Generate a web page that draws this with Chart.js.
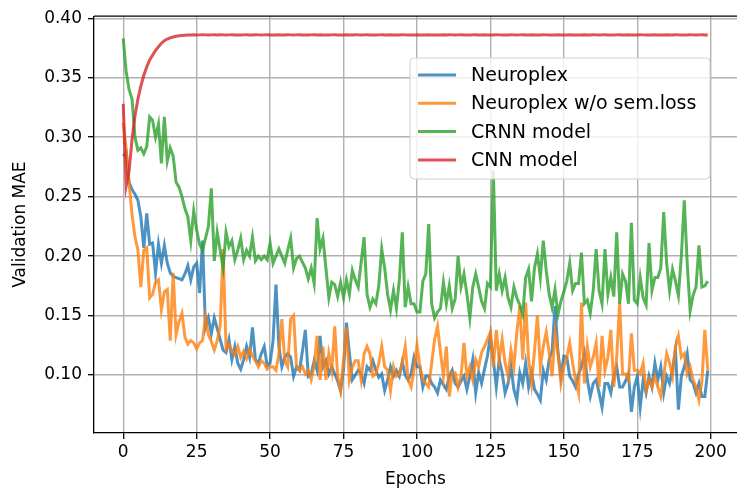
<!DOCTYPE html>
<html>
<head>
<meta charset="utf-8">
<script src="https://cdn.jsdelivr.net/npm/chart.js@4.4.1/dist/chart.umd.min.js"></script>
<style>
html,body{margin:0;padding:0;background:#fff;}
#wrap{width:737px;height:493px;}
</style>
</head>
<body>
<div id="wrap"><canvas id="c" width="737" height="493"></canvas></div>
<script>
const seriesNames = ["Neuroplex", "Neuroplex w/o sem.loss", "CRNN model", "CNN model"];
const xTicks = [0, 25, 50, 75, 100, 125, 150, 175, 200];
const yTicks = [0.10, 0.15, 0.20, 0.25, 0.30, 0.35, 0.40];

const neuroplex = [
0.284,0.287,0.262,0.256,0.252,0.247,0.233,0.207,0.236,0.210,
0.211,0.186,0.210,0.194,0.209,0.194,0.186,0.183,0.182,0.181,
0.180,0.185,0.192,0.180,0.191,0.194,0.169,0.213,0.140,0.148,
0.135,0.148,0.139,0.130,0.121,0.119,0.130,0.113,0.124,0.110,
0.105,0.113,0.124,0.115,0.140,0.113,0.110,0.118,0.124,0.108,
0.110,0.129,0.176,0.124,0.107,0.115,0.118,0.115,0.099,0.107,
0.104,0.120,0.138,0.099,0.101,0.112,0.104,0.133,0.107,0.112,
0.101,0.107,0.101,0.095,0.087,0.105,0.144,0.118,0.096,0.100,
0.104,0.101,0.093,0.107,0.104,0.112,0.104,0.098,0.101,0.087,
0.096,0.107,0.099,0.104,0.099,0.111,0.100,0.096,0.101,0.115,
0.107,0.107,0.090,0.099,0.099,0.093,0.090,0.085,0.096,0.092,
0.088,0.099,0.104,0.093,0.090,0.095,0.099,0.088,0.099,0.113,
0.085,0.102,0.093,0.105,0.116,0.133,0.113,0.090,0.113,0.102,
0.085,0.093,0.107,0.088,0.079,0.102,0.093,0.110,0.090,0.102,
0.088,0.084,0.079,0.104,0.096,0.113,0.120,0.158,0.119,0.099,
0.116,0.115,0.099,0.095,0.090,0.101,0.107,0.118,0.096,0.082,
0.093,0.096,0.085,0.073,0.093,0.093,0.085,0.099,0.107,0.090,
0.090,0.095,0.101,0.069,0.090,0.099,0.073,0.096,0.085,0.099,
0.090,0.110,0.096,0.107,0.085,0.099,0.093,0.105,0.121,0.071,
0.099,0.107,0.118,0.096,0.093,0.085,0.093,0.082,0.082,0.104
];

const neuroplexNoSem = [
0.312,0.290,0.261,0.235,0.216,0.205,0.174,0.205,0.207,0.165,
0.168,0.178,0.180,0.155,0.170,0.172,0.129,0.186,0.134,0.145,
0.152,0.132,0.126,0.129,0.127,0.122,0.127,0.129,0.149,0.134,
0.128,0.121,0.129,0.141,0.206,0.122,0.126,0.120,0.117,0.124,
0.115,0.120,0.114,0.122,0.116,0.112,0.107,0.112,0.110,0.105,
0.107,0.107,0.104,0.118,0.147,0.112,0.107,0.147,0.150,0.107,
0.104,0.107,0.101,0.104,0.096,0.108,0.133,0.096,0.124,0.096,
0.118,0.104,0.141,0.099,0.087,0.112,0.140,0.096,0.107,0.112,
0.112,0.096,0.118,0.124,0.118,0.099,0.101,0.110,0.124,0.107,
0.104,0.087,0.107,0.099,0.101,0.110,0.124,0.096,0.090,0.104,
0.125,0.107,0.096,0.093,0.090,0.110,0.130,0.141,0.119,0.099,
0.124,0.082,0.102,0.102,0.090,0.099,0.127,0.099,0.107,0.096,
0.113,0.107,0.119,0.124,0.130,0.136,0.107,0.138,0.113,0.130,
0.110,0.099,0.121,0.107,0.136,0.158,0.113,0.161,0.113,0.093,
0.120,0.150,0.107,0.124,0.136,0.119,0.099,0.136,0.119,0.093,
0.107,0.115,0.127,0.110,0.096,0.085,0.161,0.093,0.124,0.107,
0.115,0.127,0.090,0.133,0.104,0.115,0.138,0.090,0.115,0.161,
0.101,0.101,0.096,0.135,0.104,0.104,0.101,0.110,0.087,0.096,
0.090,0.099,0.090,0.082,0.099,0.118,0.110,0.099,0.124,0.133,
0.115,0.118,0.101,0.107,0.096,0.090,0.079,0.095,0.138,0.104
];

const crnn = [
0.383,0.355,0.340,0.332,0.300,0.289,0.291,0.286,0.292,0.317,
0.314,0.300,0.311,0.278,0.317,0.280,0.291,0.284,0.262,0.258,
0.250,0.240,0.233,0.213,0.238,0.222,0.210,0.205,0.215,0.225,
0.257,0.196,0.220,0.205,0.190,0.220,0.208,0.213,0.197,0.205,
0.215,0.197,0.205,0.200,0.216,0.196,0.200,0.197,0.200,0.197,
0.211,0.194,0.200,0.206,0.200,0.194,0.205,0.215,0.190,0.198,
0.200,0.195,0.190,0.181,0.190,0.177,0.232,0.206,0.215,0.190,
0.165,0.178,0.176,0.166,0.178,0.165,0.180,0.168,0.188,0.180,
0.174,0.195,0.216,0.168,0.157,0.164,0.160,0.175,0.206,0.190,
0.168,0.155,0.171,0.156,0.180,0.220,0.157,0.174,0.160,0.160,
0.153,0.153,0.179,0.185,0.227,0.160,0.148,0.153,0.156,0.178,
0.160,0.175,0.156,0.164,0.200,0.174,0.185,0.168,0.148,0.174,
0.185,0.174,0.162,0.156,0.177,0.174,0.272,0.171,0.185,0.171,
0.182,0.165,0.157,0.174,0.165,0.159,0.151,0.182,0.189,0.162,
0.190,0.202,0.182,0.213,0.188,0.168,0.157,0.172,0.151,0.162,
0.170,0.179,0.194,0.171,0.177,0.177,0.203,0.160,0.163,0.152,
0.171,0.206,0.171,0.160,0.206,0.168,0.182,0.166,0.220,0.160,
0.185,0.179,0.160,0.228,0.163,0.160,0.182,0.165,0.159,0.211,
0.171,0.182,0.182,0.190,0.237,0.194,0.171,0.189,0.179,0.167,
0.200,0.247,0.194,0.154,0.167,0.174,0.209,0.174,0.175,0.179
];

const cnn = [
0.328,0.259,0.272,0.298,0.318,0.332,0.343,0.352,0.359,0.365,
0.369,0.373,0.376,0.379,0.381,0.3825,0.3835,0.3842,0.3848,0.3852,
0.3855,0.3857,0.3858,0.3859,0.3860,0.3859,0.3860,0.3861,0.3860,0.3859,
0.3860,0.3861,0.3860,0.3862,0.3860,0.3859,0.3860,0.3861,0.3860,0.3860,
0.3859,0.3860,0.3861,0.3860,0.3860,0.3862,0.3860,0.3859,0.3860,0.3861,
0.3860,0.3860,0.3859,0.3861,0.3860,0.3860,0.3862,0.3860,0.3859,0.3860,
0.3861,0.3860,0.3860,0.3859,0.3860,0.3861,0.3860,0.3862,0.3860,0.3860,
0.3859,0.3860,0.3861,0.3860,0.3860,0.3859,0.3861,0.3860,0.3860,0.3862,
0.3860,0.3859,0.3860,0.3861,0.3860,0.3860,0.3859,0.3860,0.3862,0.3860,
0.3860,0.3861,0.3859,0.3860,0.3860,0.3861,0.3860,0.3859,0.3860,0.3860,
0.3862,0.3860,0.3860,0.3859,0.3861,0.3860,0.3860,0.3860,0.3859,0.3861,
0.3860,0.3862,0.3860,0.3859,0.3860,0.3861,0.3860,0.3860,0.3859,0.3860,
0.3861,0.3860,0.3860,0.3862,0.3859,0.3860,0.3860,0.3861,0.3860,0.3859,
0.3860,0.3860,0.3861,0.3860,0.3859,0.3860,0.3862,0.3860,0.3860,0.3861,
0.3859,0.3860,0.3860,0.3861,0.3860,0.3859,0.3860,0.3860,0.3862,0.3860,
0.3860,0.3859,0.3861,0.3860,0.3860,0.3860,0.3859,0.3861,0.3860,0.3860,
0.3862,0.3860,0.3859,0.3860,0.3861,0.3860,0.3860,0.3859,0.3860,0.3861,
0.3860,0.3860,0.3862,0.3859,0.3860,0.3860,0.3861,0.3860,0.3859,0.3860,
0.3860,0.3861,0.3860,0.3860,0.3859,0.3862,0.3860,0.3860,0.3861,0.3860,
0.3859,0.3860,0.3860,0.3861,0.3860,0.3859,0.3860,0.3862,0.3860,0.3860
];

const seriesValues = [neuroplex, neuroplexNoSem, crnn, cnn];
const seriesColors = ["rgba(31,119,180,0.8)", "rgba(255,127,14,0.8)", "rgba(44,160,44,0.8)", "rgba(214,39,40,0.8)"];

const FONT = "'DejaVu Sans', sans-serif";
const TICK_SIZE = 17;
const LEGEND_SIZE = 19;

const legendPlugin = {
  id: 'mplLegend',
  afterDatasetsDraw(chart) {
    const ctx = chart.ctx;
    const bx = 410, by = 58, bw = 300, bh = 121, r = 4;
    ctx.save();
    ctx.beginPath();
    ctx.moveTo(bx + r, by);
    ctx.lineTo(bx + bw - r, by);
    ctx.quadraticCurveTo(bx + bw, by, bx + bw, by + r);
    ctx.lineTo(bx + bw, by + bh - r);
    ctx.quadraticCurveTo(bx + bw, by + bh, bx + bw - r, by + bh);
    ctx.lineTo(bx + r, by + bh);
    ctx.quadraticCurveTo(bx, by + bh, bx, by + bh - r);
    ctx.lineTo(bx, by + r);
    ctx.quadraticCurveTo(bx, by, bx + r, by);
    ctx.closePath();
    ctx.fillStyle = 'rgba(255,255,255,0.8)';
    ctx.fill();
    ctx.strokeStyle = '#d0d0d0';
    ctx.lineWidth = 1;
    ctx.stroke();
    ctx.font = LEGEND_SIZE + 'px ' + FONT;
    ctx.textBaseline = 'middle';
    ctx.textAlign = 'left';
    chart.data.datasets.forEach((ds, i) => {
      const yy = 75 + i * 28.3;
      ctx.strokeStyle = ds.borderColor;
      ctx.lineWidth = 3;
      ctx.beginPath();
      ctx.moveTo(418, yy);
      ctx.lineTo(456, yy);
      ctx.stroke();
      ctx.fillStyle = '#000';
      ctx.fillText(ds.label, 471, yy + 1);
    });
    ctx.restore();
  }
};

const spinePlugin = {
  id: 'topSpine',
  afterDraw(chart) {
    const a = chart.chartArea;
    const ctx = chart.ctx;
    ctx.save();
    ctx.strokeStyle = '#000';
    ctx.lineWidth = 1.3;
    ctx.beginPath();
    ctx.moveTo(a.left, a.top);
    ctx.lineTo(a.right, a.top);
    ctx.stroke();
    ctx.restore();
  }
};

const order = [4, 3, 2, 1];
const datasets = seriesNames.map((name, i) => ({
  label: name,
  data: seriesValues[i].map((v, k) => ({x: k, y: v})),
  borderColor: seriesColors[i],
  backgroundColor: seriesColors[i],
  borderWidth: 3,
  pointRadius: 0,
  tension: 0,
  fill: false,
  order: order[i]
}));

new Chart(document.getElementById('c'), {
  type: 'line',
  data: { datasets },
  options: {
    responsive: false,
    devicePixelRatio: 1,
    animation: false,
    layout: { padding: { top: 16, right: 0, left: 0, bottom: 0 } },
    plugins: {
      legend: { display: false },
      tooltip: { enabled: false }
    },
    scales: {
      x: {
        type: 'linear',
        min: -9.95,
        max: 208.95,
        afterBuildTicks(s) { s.ticks = xTicks.map(v => ({ value: v })); },
        afterFit(s) { s.height = 60; },
        ticks: {
          color: '#000',
          font: { family: FONT, size: TICK_SIZE },
          padding: 3,
          maxRotation: 0,
          callback: v => String(v)
        },
        grid: { color: '#b0b0b0', lineWidth: 1.4, tickColor: '#000', tickLength: 6, tickWidth: 1.3 },
        border: { color: '#000', width: 1.3 },
        title: { display: true, text: 'Epochs', color: '#000', font: { family: FONT, size: TICK_SIZE }, padding: { top: 0, bottom: 3 } }
      },
      y: {
        type: 'linear',
        min: 0.0513,
        max: 0.4017,
        afterBuildTicks(s) { s.ticks = yTicks.map(v => ({ value: v })); },
        afterFit(s) { s.width = 94; },
        ticks: {
          color: '#000',
          font: { family: FONT, size: TICK_SIZE },
          padding: 6,
          callback: v => v.toFixed(2)
        },
        grid: { color: '#b0b0b0', lineWidth: 1.4, tickColor: '#000', tickLength: 6, tickWidth: 1.3 },
        border: { color: '#000', width: 1.3 },
        title: { display: true, text: 'Validation MAE', color: '#000', font: { family: FONT, size: TICK_SIZE }, padding: { top: 10, bottom: 0 } }
      }
    }
  },
  plugins: [legendPlugin, spinePlugin]
});
</script>
</body>
</html>
